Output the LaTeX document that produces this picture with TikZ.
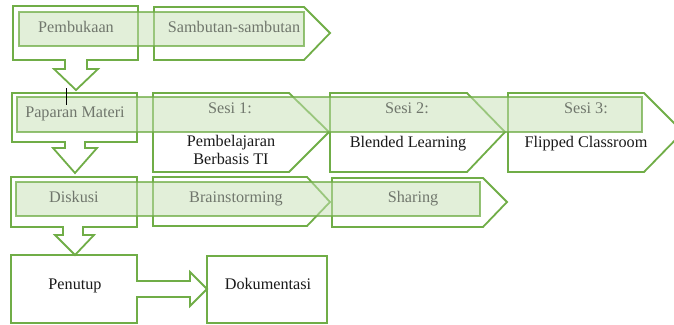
\documentclass[tikz,border=0pt]{standalone}
\usepackage{fontspec}
\setmainfont{Liberation Serif}
\definecolor{olgreen}{RGB}{112,173,71}
\definecolor{barfill}{RGB}{197,224,180}
\definecolor{bartext}{RGB}{112,118,108}
\definecolor{dark}{RGB}{25,25,25}
\begin{document}
\begin{tikzpicture}[x=1pt,y=-1pt,
  shapeline/.style={draw=olgreen,line width=1.8pt,line join=miter},
  bar/.style={draw=olgreen,draw opacity=0.75,line width=1.8pt,fill=barfill,fill opacity=0.5},
  lbl/.style={font=\fontsize{16.2}{19}\selectfont,anchor=base,inner sep=0pt},
  inbar/.style={lbl,text=bartext},
  outbar/.style={lbl,text=dark}]
\useasboundingbox (0,0) rectangle (674,324);
% --- outlines
% row 1
\draw[shapeline] (13,6) -- (138,6) -- (138,60) -- (87,60) -- (87,69) -- (98,69) -- (76,90) -- (54,69) -- (65,69) -- (65,60) -- (13,60) -- cycle;
\draw[shapeline] (154,7) -- (304,7) -- (330,33) -- (304,60) -- (154,60) -- cycle;
% row 2
\draw[shapeline] (12,93) -- (137,93) -- (137,142) -- (85,142) -- (85,148) -- (97,148) -- (75,173) -- (53,148) -- (65,148) -- (65,142) -- (12,142) -- cycle;
\draw[shapeline] (153,93) -- (289,93) -- (329,132) -- (289,172) -- (153,172) -- cycle;
\draw[shapeline] (330,93) -- (467,93) -- (505,132) -- (467,172) -- (330,172) -- cycle;
\draw[shapeline] (508,93) -- (644,93) -- (683,132) -- (644,172) -- (508,172) -- cycle;
% row 3
\draw[shapeline] (11,177) -- (137,177) -- (137,227) -- (83,227) -- (83,235) -- (94,235) -- (75,255) -- (55,235) -- (63,235) -- (63,227) -- (11,227) -- cycle;
\draw[shapeline] (153,177) -- (307,177) -- (330,202) -- (307,226) -- (153,226) -- cycle;
\draw[shapeline] (332,178) -- (483,178) -- (507,202) -- (483,227) -- (332,227) -- cycle;
% row 4
\draw[shapeline] (11,255) -- (137,255) -- (137,281) -- (190,281) -- (190,272) -- (207,289) -- (190,306) -- (190,297) -- (137,297) -- (137,323) -- (11,323) -- cycle;
\draw[shapeline] (207,256) rectangle (327,323);
% --- bars
\draw[bar] (19,12) rectangle (304,46);
\draw[bar] (17,97) rectangle (642,132);
\draw[bar] (16,182) rectangle (480,216);
% --- cursor
\draw[black,line width=1pt] (66,88) -- (66,105);
% --- labels
\node[inbar] (pembukaan) at (76,32) {Pembukaan};
\node[inbar] (sambutan) at (234,32) {Sambutan-sambutan};
\node[inbar] (paparan) at (75,117) {Paparan Materi};
\node[inbar] (sesi1) at (230,113) {Sesi 1:};
\node[inbar] (sesi2) at (407,113) {Sesi 2:};
\node[inbar] (sesi3) at (586,113) {Sesi 3:};
\node[outbar] (pemb) at (231,146) {Pembelajaran};
\node[outbar] (berb) at (231,164) {Berbasis TI};
\node[outbar] (blended) at (408,147) {Blended Learning};
\node[outbar] (flipped) at (586,147) {Flipped Classroom};
\node[inbar] (diskusi) at (74,202) {Diskusi};
\node[inbar] (brain) at (236,202) {Brainstorming};
\node[inbar] (sharing) at (413,202) {Sharing};
\node[outbar] (penutup) at (75,289) {Penutup};
\node[outbar] (dok) at (268,289) {Dokumentasi};
\end{tikzpicture}
\end{document}
